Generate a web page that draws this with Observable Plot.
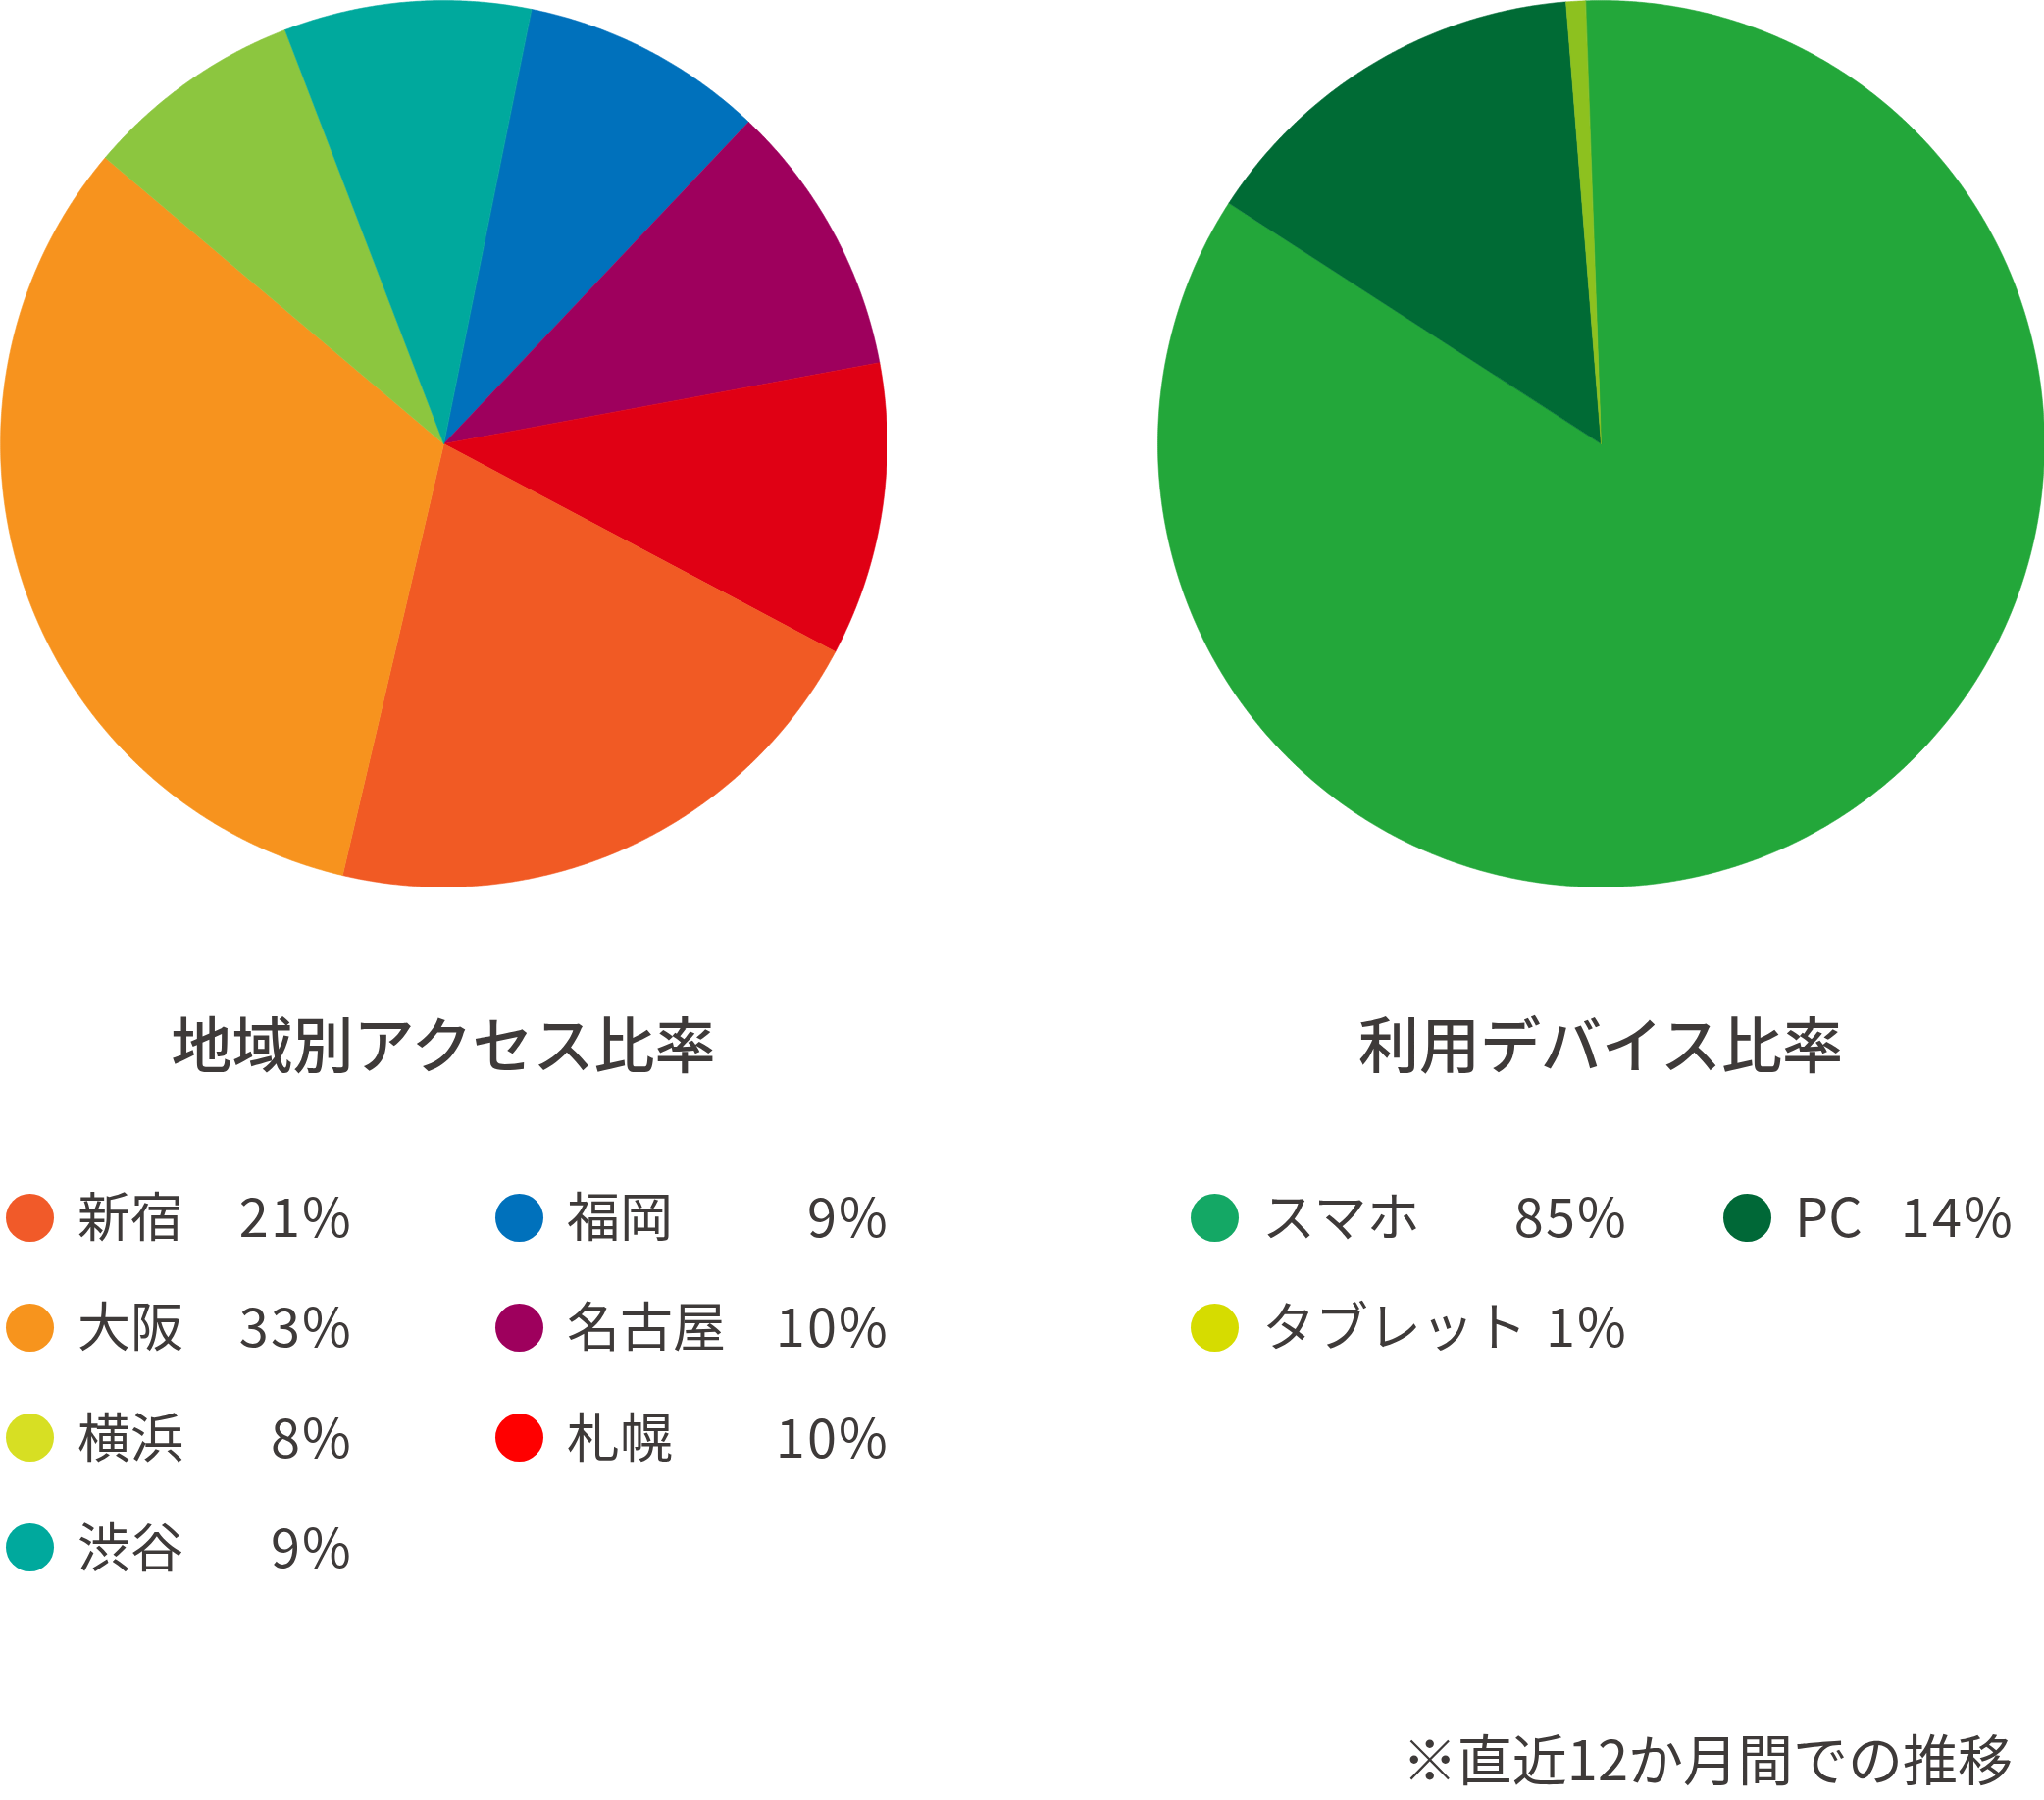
<!DOCTYPE html>
<html>
<head>
<meta charset="utf-8">
<script src="https://cdn.jsdelivr.net/npm/d3@7"></script>
<script src="https://cdn.jsdelivr.net/npm/@observablehq/plot@0.6"></script>
<style>
  html, body { margin: 0; padding: 0; background: #fff; }
  #root { position: relative; width: 2084px; height: 1835px; overflow: hidden;
          font-family: "Noto Sans CJK JP", "Noto Sans", sans-serif; color: #3e3a39; }
  .pie { position: absolute; top: 0; }
  .title { position: absolute; width: 904px; text-align: center; font-size: 62px; line-height: 62px; font-weight: 500; white-space: nowrap; }
  .item { position: absolute; height: 54px; font-size: 54px; line-height: 54px; white-space: nowrap; }
  .item .dot { position: absolute; left: 0; top: 5.5px; width: 49px; height: 49px; border-radius: 50%; }
  .item .lab { position: absolute; left: 73px; top: 0; }
  .item .val { position: absolute; right: 0; top: 0; letter-spacing: 0.04em; }
  .note { position: absolute; right: 32px; top: 1763px; font-size: 56px; line-height: 56px; white-space: nowrap; }
</style>
</head>
<body>
<div id="root"></div>
<script>
// ---- 地域別アクセス比率 (clockwise order as drawn) ----
const regionNames = ["福岡", "名古屋", "札幌", "新宿", "大阪", "横浜", "渋谷"];
const regionShares = [8.9, 10.0, 10.7, 20.9, 32.5, 8.0, 9.0];
const regionLabels = ["9%", "10%", "10%", "21%", "33%", "8%", "9%"];
const regionSliceColors = ["#0071bc", "#9e005d", "#e00014", "#f15a24", "#f7931e", "#8cc63f", "#00a99d"];
const regionLegendColors = ["#0071bc", "#9e005d", "#ff0000", "#f15a29", "#f7941d", "#d7df23", "#00a99d"];
const regionLegendOrder = [["新宿", "大阪", "横浜", "渋谷"], ["福岡", "名古屋", "札幌"]];
const regionStartDeg = 11.4;

// ---- 利用デバイス比率 ----
const deviceNames = ["スマホ", "PC", "タブレット"];
const deviceShares = [84.7, 14.6, 0.7];
const deviceLabels = ["85%", "14%", "1%"];
const deviceSliceColors = ["#23a73a", "#006b35", "#8dc11f"];
const deviceLegendColors = ["#14a865", "#006837", "#d6dc00"];
const deviceLegendOrder = [["スマホ", "タブレット"], ["PC"]];
const deviceStartDeg = -2.04;

const titles = ["地域別アクセス比率", "利用デバイス比率"];
const note = "※直近12か月間での推移";

const SIZE = 904;

function piePlot(names, shares, colors, startDeg) {
  const total = d3.sum(shares);
  const pts = [];
  let a = startDeg;
  names.forEach((name, i) => {
    const span = shares[i] / total * 360;
    const n = Math.max(2, Math.ceil(span / 0.25));
    pts.push({name, x: 0, y: 0});
    for (let k = 0; k <= n; k++) {
      const t = (a + span * k / n) * Math.PI / 180;
      pts.push({name, x: Math.sin(t), y: Math.cos(t)});
    }
    a += span;
  });
  return Plot.plot({
    width: SIZE, height: SIZE, margin: 0,
    x: {domain: [-1, 1], axis: null},
    y: {domain: [-1, 1], axis: null},
    color: {domain: names, range: colors},
    marks: [
      Plot.line(pts, {x: "x", y: "y", z: "name", fill: "name", stroke: "name", strokeWidth: 0.6, curve: "linear-closed"})
    ]
  });
}

const root = document.getElementById("root");

function place(el, cls, left, top) {
  el.classList.add(cls);
  el.style.left = left + "px";
  el.style.top = top + "px";
  root.appendChild(el);
}

place(piePlot(regionNames, regionShares, regionSliceColors, regionStartDeg), "pie", 0, 0);
place(piePlot(deviceNames, deviceShares, deviceSliceColors, deviceStartDeg), "pie", 1180, 0);

[0, 1180].forEach((left, i) => {
  const t = document.createElement("div");
  t.textContent = titles[i];
  place(t, "title", left, 1031);
});

function legend(names, labels, colors, order, cols) {
  order.forEach((column, c) => {
    column.forEach((name, r) => {
      const i = names.indexOf(name);
      const it = document.createElement("div");
      it.style.width = cols[c].w + "px";
      const dot = document.createElement("span");
      dot.className = "dot";
      dot.style.background = colors[i];
      const lab = document.createElement("span");
      lab.className = "lab";
      lab.textContent = name;
      const val = document.createElement("span");
      val.className = "val";
      val.textContent = labels[i];
      it.append(dot, lab, val);
      place(it, "item", cols[c].left, 1211 + r * 112.3);
    });
  });
}

legend(regionNames, regionLabels, regionLegendColors, regionLegendOrder, [{left: 6, w: 354}, {left: 505, w: 402}]);
legend(deviceNames, deviceLabels, deviceLegendColors, deviceLegendOrder, [{left: 1214, w: 446}, {left: 1757, w: 297}]);

const n = document.createElement("div");
n.className = "note";
n.textContent = note;
root.appendChild(n);
</script>
</body>
</html>
